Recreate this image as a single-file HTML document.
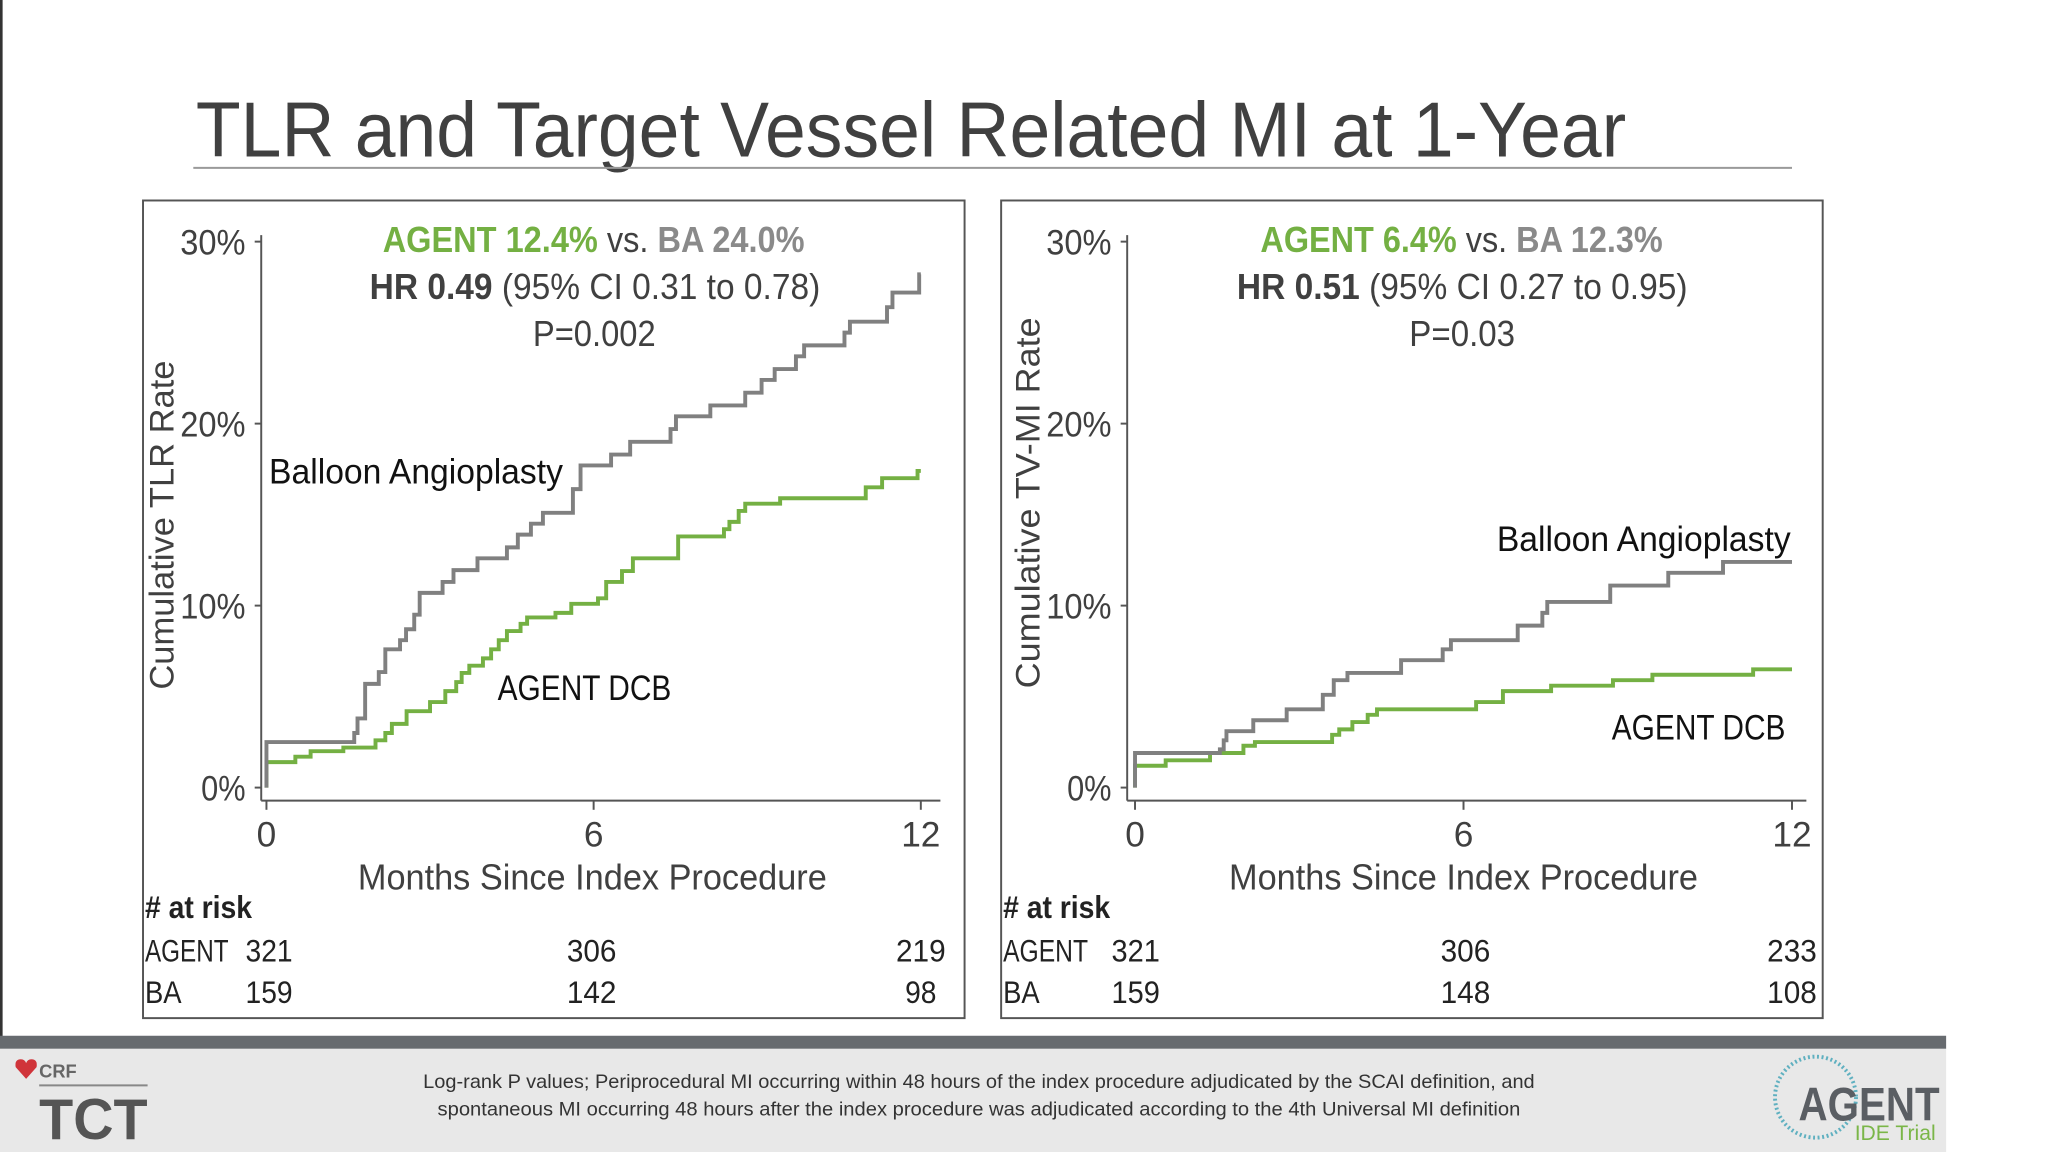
<!DOCTYPE html>
<html><head><meta charset="utf-8"><style>
html,body{margin:0;padding:0;background:#fff;width:2048px;height:1152px;overflow:hidden}
svg{display:block}
text{font-family:"Liberation Sans",sans-serif}
</style></head><body>
<svg id="chart" width="2048" height="1152" viewBox="0 0 1568 882" xmlns="http://www.w3.org/2000/svg">
<rect x="0" y="0" width="1568" height="882" fill="#fff"/>
<rect x="0" y="0" width="2" height="795" fill="#333"/>
<text x="150" y="120" font-size="60" fill="#404040" textLength="1095" lengthAdjust="spacingAndGlyphs">TLR and Target Vessel Related MI at 1-Year</text>
<line x1="148" y1="128.5" x2="1372" y2="128.5" stroke="#9a9a9a" stroke-width="1.5"/>
<rect x="109.5" y="153.5" width="629" height="626" fill="none" stroke="#555" stroke-width="1.5"/>
<rect x="766.5" y="153.5" width="629" height="626" fill="none" stroke="#555" stroke-width="1.5"/>
<g id="plots"></g>

<!-- left annotations -->
<text x="293" y="193" font-size="28" font-weight="bold" textLength="323" lengthAdjust="spacingAndGlyphs"><tspan fill="#74b043">AGENT 12.4%</tspan><tspan fill="#404040" font-weight="normal"> vs. </tspan><tspan fill="#8a8a8a">BA 24.0%</tspan></text>
<text x="283" y="229" font-size="28" fill="#404040" textLength="345" lengthAdjust="spacingAndGlyphs"><tspan font-weight="bold">HR 0.49</tspan> (95% CI 0.31 to 0.78)</text>
<text x="408" y="265" font-size="28" fill="#404040" textLength="94" lengthAdjust="spacingAndGlyphs">P=0.002</text>
<text x="206" y="370" font-size="27" fill="#111" textLength="225" lengthAdjust="spacingAndGlyphs">Balloon Angioplasty</text>
<text x="381" y="536" font-size="27" fill="#111" textLength="133" lengthAdjust="spacingAndGlyphs">AGENT DCB</text>
<text transform="translate(133,528) rotate(-90)" font-size="26" fill="#404040" textLength="252" lengthAdjust="spacingAndGlyphs">Cumulative TLR Rate</text>
<text x="274" y="681" font-size="28" fill="#404040" textLength="359" lengthAdjust="spacingAndGlyphs">Months Since Index Procedure</text>

<!-- right annotations -->
<text x="965" y="193" font-size="28" font-weight="bold" textLength="308" lengthAdjust="spacingAndGlyphs"><tspan fill="#74b043">AGENT 6.4%</tspan><tspan fill="#404040" font-weight="normal"> vs. </tspan><tspan fill="#8a8a8a">BA 12.3%</tspan></text>
<text x="947" y="229" font-size="28" fill="#404040" textLength="345" lengthAdjust="spacingAndGlyphs"><tspan font-weight="bold">HR 0.51</tspan> (95% CI 0.27 to 0.95)</text>
<text x="1079" y="265" font-size="28" fill="#404040" textLength="81" lengthAdjust="spacingAndGlyphs">P=0.03</text>
<text x="1146" y="422" font-size="27" fill="#111" textLength="225" lengthAdjust="spacingAndGlyphs">Balloon Angioplasty</text>
<text x="1234" y="566" font-size="27" fill="#111" textLength="133" lengthAdjust="spacingAndGlyphs">AGENT DCB</text>
<text transform="translate(796,527) rotate(-90)" font-size="26" fill="#404040" textLength="284" lengthAdjust="spacingAndGlyphs">Cumulative TV-MI Rate</text>
<text x="941" y="681" font-size="28" fill="#404040" textLength="359" lengthAdjust="spacingAndGlyphs">Months Since Index Procedure</text>

<!-- at risk tables -->
<g font-size="24" fill="#222">
<text x="111" y="703" font-weight="bold" textLength="82" lengthAdjust="spacingAndGlyphs"># at risk</text>
<text x="111" y="736" textLength="64" lengthAdjust="spacingAndGlyphs">AGENT</text>
<text x="188" y="736" textLength="36" lengthAdjust="spacingAndGlyphs">321</text>
<text x="434" y="736" textLength="38" lengthAdjust="spacingAndGlyphs">306</text>
<text x="686" y="736" textLength="38" lengthAdjust="spacingAndGlyphs">219</text>
<text x="111" y="768" textLength="28" lengthAdjust="spacingAndGlyphs">BA</text>
<text x="188" y="768" textLength="36" lengthAdjust="spacingAndGlyphs">159</text>
<text x="434" y="768" textLength="38" lengthAdjust="spacingAndGlyphs">142</text>
<text x="693" y="768" textLength="24" lengthAdjust="spacingAndGlyphs">98</text>
</g>
<g font-size="24" fill="#222">
<text x="768" y="703" font-weight="bold" textLength="82" lengthAdjust="spacingAndGlyphs"># at risk</text>
<text x="768" y="736" textLength="65" lengthAdjust="spacingAndGlyphs">AGENT</text>
<text x="851" y="736" textLength="37" lengthAdjust="spacingAndGlyphs">321</text>
<text x="1103" y="736" textLength="38" lengthAdjust="spacingAndGlyphs">306</text>
<text x="1353" y="736" textLength="38" lengthAdjust="spacingAndGlyphs">233</text>
<text x="768" y="768" textLength="28" lengthAdjust="spacingAndGlyphs">BA</text>
<text x="851" y="768" textLength="37" lengthAdjust="spacingAndGlyphs">159</text>
<text x="1103" y="768" textLength="38" lengthAdjust="spacingAndGlyphs">148</text>
<text x="1353" y="768" textLength="38" lengthAdjust="spacingAndGlyphs">108</text>
</g>

<!-- footer -->
<rect x="0" y="793" width="1490" height="10" fill="#676b6f"/>
<rect x="0" y="803" width="1490" height="79" fill="#e8e8e8"/>
<text x="324" y="833" font-size="15" fill="#333" textLength="851" lengthAdjust="spacingAndGlyphs">Log-rank P values; Periprocedural MI occurring within 48 hours of the index procedure adjudicated by the SCAI definition, and</text>
<text x="335" y="854" font-size="15" fill="#333" textLength="829" lengthAdjust="spacingAndGlyphs">spontaneous MI occurring 48 hours after the index procedure was adjudicated according to the 4th Universal MI definition</text>
<g>
<path d="M20 826 L12 817 Q11 811 16 811 Q19 811 20 814 Q21 811 24 811 Q29 811 28 817 Z" fill="#d0343a"/>
<text x="30" y="825" font-size="14" fill="#666" font-weight="bold">CRF</text>
<line x1="30" y1="831" x2="113" y2="831" stroke="#888" stroke-width="1.5"/>
<text x="30" y="872" font-size="44" font-weight="bold" fill="#555" textLength="83" lengthAdjust="spacingAndGlyphs">TCT</text>
</g>
<g>
<circle cx="1390" cy="840" r="31" fill="none" stroke="#5fb0c0" stroke-width="3" stroke-dasharray="1.5 2"/>
<text x="1377" y="858" font-size="36" font-weight="bold" fill="#5a5e63" font-family="Liberation Serif,serif" textLength="108" lengthAdjust="spacingAndGlyphs">AGENT</text>
<text x="1420" y="873" font-size="16" fill="#7ab648" font-family="Liberation Serif,serif" textLength="62" lengthAdjust="spacingAndGlyphs">IDE Trial</text>
</g>
</svg>
<script>
// Data (months, cumulative %)
const yTicks = [0, 10, 20, 30];
const yTickLabels = ["0%", "10%", "20%", "30%"];
const xTicks = [0, 6, 12];
const xTickLabels = ["0", "6", "12"];

const tlrBaTimes = [0,1.61,1.67,1.81,2.06,2.18,2.45,2.56,2.71,2.81,3.23,3.43,3.87,4.41,4.61,4.85,5.07,5.62,5.76,6.32,6.67,7.41,7.51,8.14,8.78,9.08,9.32,9.71,9.86,10.6,10.7,11.38,11.48,11.97];
const tlrBaRates = [2.5,3.0,3.8,5.7,6.35,7.6,8.1,8.7,9.5,10.7,11.3,11.95,12.6,13.2,13.9,14.5,15.1,16.4,17.7,18.3,19.0,19.7,20.4,21.0,21.7,22.4,23.0,23.7,24.3,25.0,25.6,26.4,27.2,28.2];
const tlrAgentTimes = [0,0.53,0.81,1.41,2.0,2.18,2.3,2.57,3.0,3.28,3.48,3.58,3.72,3.97,4.12,4.26,4.41,4.66,4.78,5.3,5.59,6.08,6.23,6.52,6.72,7.55,8.39,8.49,8.66,8.78,9.42,10.99,11.29,11.94];
const tlrAgentRates = [1.4,1.7,2.0,2.2,2.6,3.0,3.5,4.2,4.7,5.3,5.8,6.3,6.7,7.1,7.6,8.1,8.6,9.0,9.35,9.6,10.1,10.4,11.3,11.9,12.6,13.8,14.2,14.6,15.2,15.6,15.9,16.5,17.0,17.4];
const miBaTimes = [0,1.55,1.62,1.67,2.16,2.77,3.43,3.63,3.88,4.86,5.62,5.77,6.99,7.44,7.53,8.68,9.74,10.74];
const miBaRates = [1.9,2.1,2.6,3.1,3.7,4.3,5.1,5.9,6.3,7.0,7.6,8.1,8.9,9.6,10.2,11.1,11.8,12.4];
const miAgentTimes = [0,0.56,1.37,1.98,2.19,3.6,3.73,3.97,4.25,4.42,6.23,6.72,7.6,8.73,9.45,11.29];
const miAgentRates = [1.2,1.5,1.9,2.3,2.5,2.9,3.2,3.6,4.0,4.3,4.7,5.3,5.6,5.9,6.2,6.5];

const NS = "http://www.w3.org/2000/svg";
const root = document.getElementById("plots");
function mk(tag, attrs, parent) {
  const e = document.createElementNS(NS, tag);
  for (const k in attrs) e.setAttribute(k, attrs[k]);
  (parent || root).appendChild(e);
  return e;
}
function drawPanel(p, prefix) {
  const sx = v => p.x0 + (v / 12) * (p.x12 - p.x0);
  const sy = v => p.y0 - (v / 30) * (p.y0 - p.y30);
  const g = mk("g", {});
  
  
  const ya = mk("line", {x1: p.ax, y1: 180, x2: p.ax, y2: 613, stroke: "#555", "stroke-width": 1.5}, g);
  
  
  const xa = mk("line", {x1: p.ax, y1: 613, x2: p.xEnd, y2: 613, stroke: "#555", "stroke-width": 1.5}, g);
  
  
  yTicks.forEach((v, i) => {
    mk("line", {x1: p.ax - 5, y1: sy(v), x2: p.ax, y2: sy(v), stroke: "#555", "stroke-width": 1.5}, g);
    const lbl = yTickLabels[i];
    const t = mk("text", {x: p.ax - 12, y: sy(v) + 10, "font-size": 27, fill: "#404040", "text-anchor": "end",
      textLength: lbl.length === 2 ? 34 : 50, lengthAdjust: "spacingAndGlyphs"}, g);
    t.textContent = lbl;
    
    
  });
  xTicks.forEach((v, i) => {
    mk("line", {x1: sx(v), y1: 613, x2: sx(v), y2: 620, stroke: "#555", "stroke-width": 1.5}, g);
    const t = mk("text", {x: sx(v), y: 648, "font-size": 27, fill: "#404040", "text-anchor": "middle"}, g);
    t.textContent = xTickLabels[i];
    
    
  });
  function step(times, rates, color, name) {
    let d = "M" + sx(0) + "," + sy(0);
    for (let i = 0; i < times.length; i++) {
      d += " H" + sx(times[i]) + " V" + sy(rates[i]);
    }
    d += " H" + sx(12);
    const path = mk("path", {d: d, fill: "none", stroke: color, "stroke-width": 3}, g);
    
    
  }
  step(p.agentT, p.agentR, "#74b043", prefix + '-agent-curve');
  step(p.baT, p.baR, "#808080", prefix + '-ba-curve');
}
drawPanel({x0: 204, x12: 705, y0: 603, y30: 185, ax: 200, xEnd: 720,
  baT: tlrBaTimes, baR: tlrBaRates, agentT: tlrAgentTimes, agentR: tlrAgentRates}, "tlr");
drawPanel({x0: 869, x12: 1372, y0: 603, y30: 185, ax: 863, xEnd: 1383,
  baT: miBaTimes, baR: miBaRates, agentT: miAgentTimes, agentR: miAgentRates}, "tvmi");
</script>
</body></html>
